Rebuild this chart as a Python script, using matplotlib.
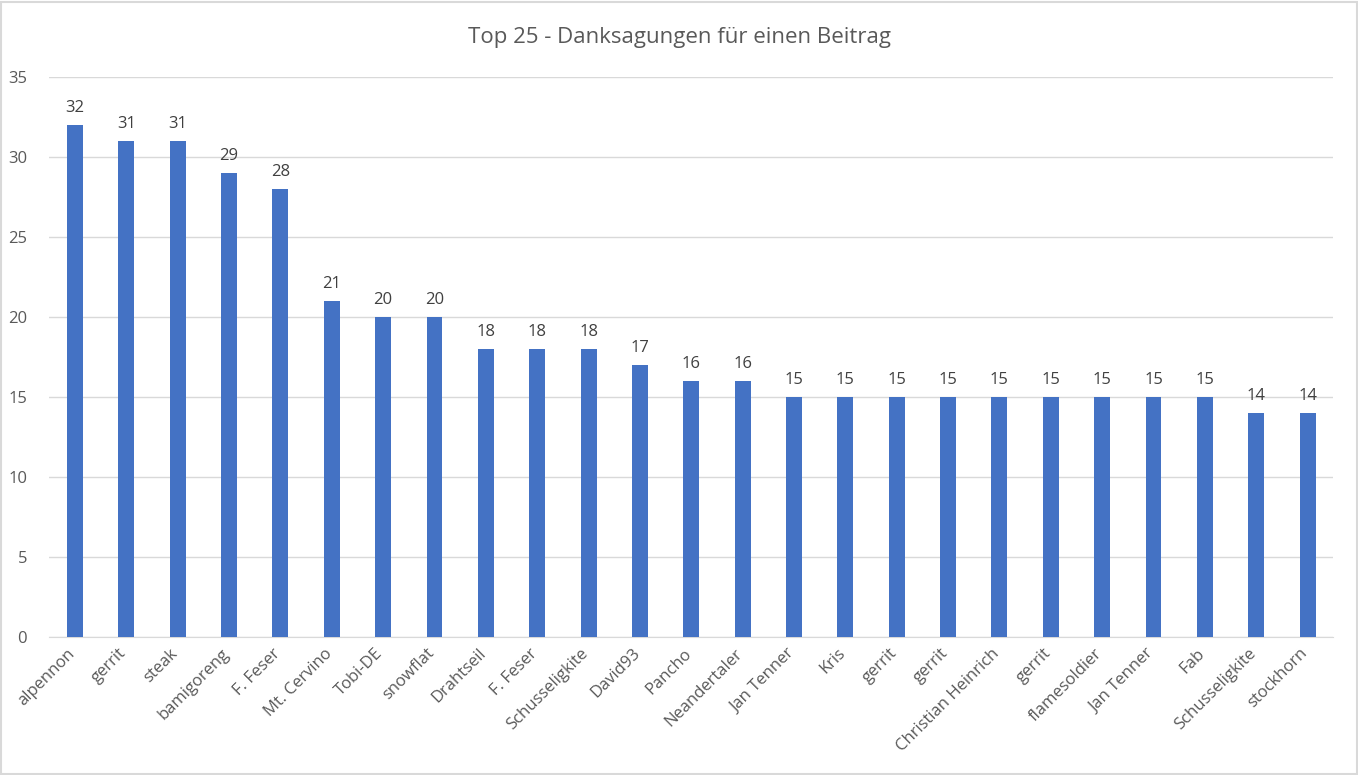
import matplotlib.pyplot as plt
import matplotlib.transforms as mtransforms
import numpy as np

names = ['alpennon', 'gerrit', 'steak', 'bamigoreng', 'F. Feser', 'Mt. Cervino',
         'Tobi-DE', 'snowflat', 'Drahtseil', 'F. Feser', 'Schusseligkite', 'David93',
         'Pancho', 'Neandertaler', 'Jan Tenner', 'Kris', 'gerrit', 'gerrit',
         'Christian Heinrich', 'gerrit', 'flamesoldier', 'Jan Tenner', 'Fab',
         'Schusseligkite', 'stockhorn']
counts = [32, 31, 31, 29, 28, 21, 20, 20, 18, 18, 18, 17, 16, 16,
          15, 15, 15, 15, 15, 15, 15, 15, 15, 14, 14]

plt.rcParams['font.family'] = ['Open Sans', 'DejaVu Sans']
grey = '#595959'

f = plt.figure(figsize=(13.58, 7.75), dpi=100)
f.patches.append(plt.Rectangle((0.001, 0.001), 0.998, 0.997, transform=f.transFigure,
                               fill=False, edgecolor='#d9d9d9', linewidth=1.5))
ax = f.add_axes([0.0363, 0.178, 0.9455, 0.7226])

x = np.arange(len(names))
bars = ax.bar(x, counts, width=0.31, color='#4472C4', zorder=3)
for xi, c in zip(x, counts):
    ax.text(xi, c + 0.55, str(c), ha='center', va='bottom', fontsize=12, color='#404040')

ax.set_xlim(-0.5, len(names) - 0.5)
ax.set_ylim(0, 35)
ax.set_yticks(range(0, 36, 5))
ax.grid(axis='y', color='#d9d9d9', linewidth=1, zorder=0)
for s in ['top', 'right', 'left']:
    ax.spines[s].set_visible(False)
ax.spines['bottom'].set_color('#d9d9d9')
ax.tick_params(axis='both', length=0, colors=grey, labelsize=12)
ax.tick_params(axis='y', pad=16)
ax.set_xticks(x)
ax.set_xticklabels(names, rotation=45, ha='right', rotation_mode='anchor')
ax.tick_params(axis='x', pad=6)
shift = mtransforms.ScaledTranslation(-8 / 100, 0, f.dpi_scale_trans)
for lab in ax.get_xticklabels():
    lab.set_transform(lab.get_transform() + shift)

f.text(0.5, 0.952, 'Top 25 - Danksagungen für einen Beitrag', ha='center', va='center',
       fontsize=16, color=grey)

plt.savefig('out.png', dpi=100)
